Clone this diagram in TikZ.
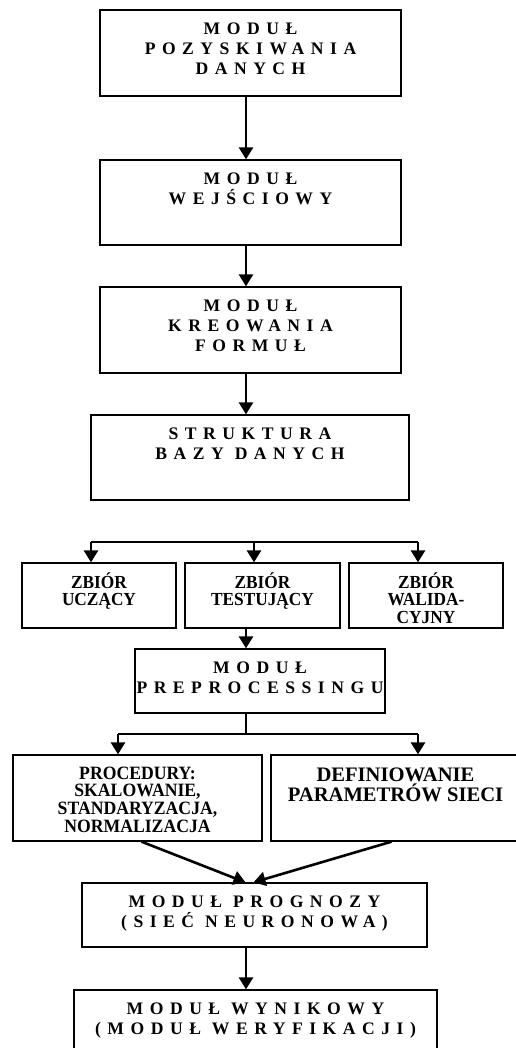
\documentclass[tikz,border=0pt]{standalone}
\usepackage{fontspec}
\setmainfont{Liberation Serif}
\newfontfamily\spacedfont[LetterSpace=37]{Liberation Serif}
\newfontfamily\tallfont[FakeStretch=0.94]{Liberation Serif}
\usetikzlibrary{arrows.meta,positioning}

\tikzset{
  modbox/.style={draw,line width=0.65pt,inner sep=0pt},
  spacedtext/.style={inner sep=0pt,align=center,font=\spacedfont\bfseries\fontsize{8.8}{10}\selectfont},
  boldtext/.style={inner sep=0pt,align=center,font=\tallfont\bfseries\fontsize{9.2}{8.9}\selectfont},
  toptext/.style={label={[spacedtext,anchor=north,yshift=-6.5pt]north:{#1}}},
  rowtext/.style={label={[boldtext,anchor=north,yshift=-4.8pt]north:{#1}}},
  flow/.style={-{Triangle[length=6pt,width=7pt]},line width=1.3pt},
  tree/.style={line width=0.7pt},
}

\begin{document}
\begin{tikzpicture}[x=0.5pt,y=-0.5pt]
    \useasboundingbox (0,0) rectangle (515,1048);
    \coordinate (spine) at (246,0);
    % main modules
    \node[modbox,minimum width=150.5pt,minimum height=43pt,toptext={MODUŁ\\POZYSKIWANIA\\DANYCH}] (pozysk) at (250.5,53) {};
    \node[modbox,minimum width=150.5pt,minimum height=42.5pt,toptext={MODUŁ\\WEJŚCIOWY}] (wejscie) at (250.5,202.5) {};
    \node[modbox,minimum width=150.5pt,minimum height=43pt,toptext={MODUŁ\\KREOWANIA\\FORMUŁ}] (formuly) at (250.5,330) {};
    \node[modbox,minimum width=159pt,minimum height=42.5pt,toptext={STRUKTURA\\BAZY DANYCH}] (baza) at (250,457.5) {};
    \draw[flow] (pozysk.south -| spine) -- (wejscie.north -| spine);
    \draw[flow] (wejscie.south -| spine) -- (formuly.north -| spine);
    \draw[flow] (formuly.south -| spine) -- (baza.north -| spine);
    % data sets
    \node[modbox,minimum width=77pt,minimum height=32.5pt,rowtext={ZBIÓR\\UCZĄCY}] (uczacy) at (99,595.5) {};
    \node[modbox,minimum width=77.5pt,minimum height=32.5pt,rowtext={ZBIÓR\\TESTUJĄCY}] (testujacy) at (262.5,595.5) {};
    \node[modbox,minimum width=77pt,minimum height=32.5pt,rowtext={ZBIÓR\\WALIDA-\\CYJNY}] (walid) at (426,595.5) {};
    \coordinate (brL) at (91,542);
    \coordinate (brM) at (254,542);
    \coordinate (brR) at (418,542);
    \draw[line width=1pt] (brL) -- (brR);
    \draw[flow] (brL) -- (brL |- uczacy.north);
    \draw[flow] (brM) -- (brM |- testujacy.north);
    \draw[flow] (brR) -- (brR |- walid.north);
    % preprocessing
    \node[modbox,minimum width=125pt,minimum height=32pt,toptext={MODUŁ\\PREPROCESSINGU}] (preproc) at (260,681) {};
    \draw[flow] (testujacy.south -| spine) -- (preproc.north -| spine);
    \node[modbox,minimum width=124.5pt,minimum height=43pt,label={[boldtext,font=\tallfont\bfseries\fontsize{9.4}{8.8}\selectfont,anchor=north,yshift=-6pt]north:{PROCEDURY:\\SKALOWANIE,\\STANDARYZACJA,\\NORMALIZACJA}}] (proced) at (137.5,798) {};
    \node[modbox,minimum width=124.5pt,minimum height=43pt,label={[boldtext,font=\bfseries\fontsize{10.3}{8.8}\selectfont,anchor=north,yshift=-6.5pt]north:{DEFINIOWANIE\\PARAMETRÓW SIECI}}] (param) at (395.5,798) {};
    \coordinate (fork) at (246,734);
    \coordinate (forkL) at (118,734);
    \coordinate (forkR) at (418,734);
    \draw[tree] (preproc.south -| spine) -- (fork);
    \draw[tree] (forkL) -- (forkR);
    \draw[flow] (forkL) -- (forkL |- proced.north);
    \draw[flow] (forkR) -- (forkR |- param.north);
    % forecast and results
    \node[modbox,minimum width=172.5pt,minimum height=32pt,toptext={MODUŁ PROGNOZY\\(SIEĆ NEURONOWA)}] (prognoza) at (254.5,915) {};
    \draw[flow] ([xshift=2pt]proced.south) -- ([xshift=-4.5pt]prognoza.north);
    \draw[flow] ([xshift=-2pt]param.south) -- ([xshift=-0.5pt]prognoza.north);
    \node[modbox,minimum width=181.5pt,minimum height=36pt,toptext={MODUŁ WYNIKOWY\\(MODUŁ WERYFIKACJI)}] (wynik) at (255.5,1026) {};
    \draw[flow] (prognoza.south -| spine) -- (wynik.north -| spine);
  \end{tikzpicture}
\end{document}
